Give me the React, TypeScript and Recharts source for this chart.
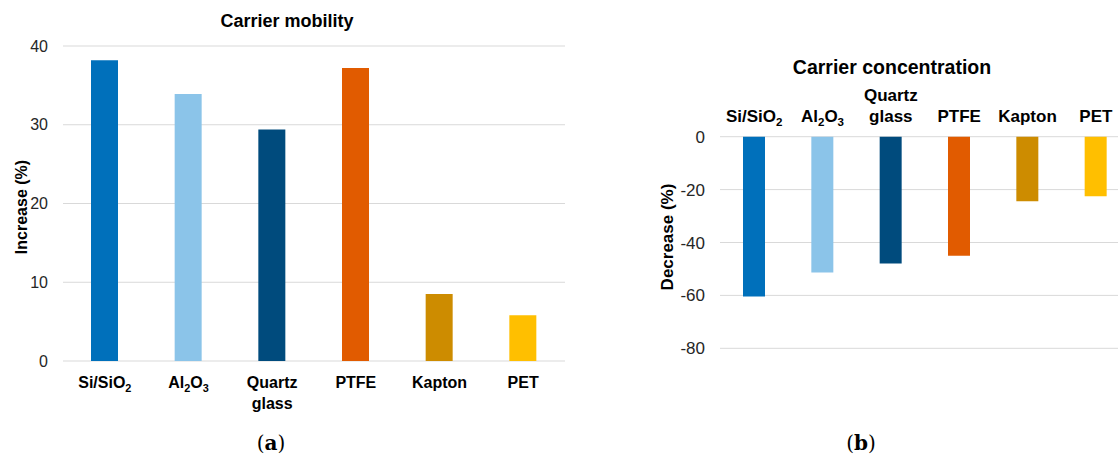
import React from 'react'
import { BarChart, Bar, XAxis, YAxis, CartesianGrid, Cell } from 'recharts'

const materials = ['Si/SiO2', 'Al2O3', 'Quartz glass', 'PTFE', 'Kapton', 'PET']
const mobilityIncrease = [38.2, 33.9, 29.4, 37.2, 8.5, 5.8]
const concentrationDecrease = [-60.4, -51.3, -47.9, -45, -24.4, -22.5]
const barColors = ['#0070BB', '#8BC4E9', '#004B7D', '#E15B00', '#CD8C00', '#FFBF00']
const mobilityTicks = [0, 10, 20, 30, 40]
const concentrationTicks = [-80, -60, -40, -20, 0]

const mobilityData = materials.map((name, i) => ({ name, value: mobilityIncrease[i] }))
const concentrationData = materials.map((name, i) => ({ name, value: concentrationDecrease[i] }))

const FONT = '"Liberation Sans", Arial, sans-serif'

// split "Al2O3" into normal / subscript pieces
const pieces = (s: string) => {
  const out: { t: string; sub: boolean }[] = []
  s.replace(/(\d+)|([^\d]+)/g, (_m, d, t) => {
    out.push(d ? { t: d, sub: true } : { t, sub: false })
    return ''
  })
  return out
}

const makeTick = (fontSize: number, firstLine: number, lineGap: number, up: boolean) => (props: any) => {
  const { x, y, payload } = props
  const lines: string[] = payload.value.split(' ')
  const subShift = Math.round(fontSize * 0.25)
  return (
    <g transform={`translate(${x},${y})`}>
      {lines.map((line, li) => {
        const yy = up ? firstLine - (lines.length - 1 - li) * lineGap : firstLine + li * lineGap
        return (
          <text key={li} x={0} y={yy} textAnchor="middle" fontFamily={FONT} fontWeight="bold" fontSize={fontSize} fill="#000">
            {pieces(line).map((p, k) =>
              p.sub ? (
                <tspan key={k} fontSize={fontSize * 0.68} dy={subShift}>{p.t}</tspan>
              ) : (
                <tspan key={k} dy={k > 0 && pieces(line)[k - 1].sub ? -subShift : 0}>{p.t}</tspan>
              )
            )}
          </text>
        )
      })}
    </g>
  )
}

const MobilityTick = makeTick(16, 26.7, 21, false)
const ConcentrationTick = makeTick(17, -14.7, 21, true)

export default function App() {
  return (
    <div style={{ position: 'absolute', left: 0, top: 0, width: 1118, height: 457, overflow: 'hidden', background: '#fff' }}>
      <div style={{ position: 'absolute', left: 0, top: 0 }}>
        <BarChart width={580} height={457} data={mobilityData} margin={{ top: 46, right: 15, left: 0, bottom: 36 }}>
          <CartesianGrid vertical={false} stroke="#d9d9d9" />
          <XAxis dataKey="name" height={60} axisLine={false} tickLine={false} tickSize={0} tickMargin={0} interval={0} tick={MobilityTick} />
          <YAxis
            width={63}
            domain={[0, 40]}
            ticks={mobilityTicks}
            axisLine={false}
            tickLine={false}
            tickSize={0}
            tickMargin={15}
            tick={{ fontFamily: FONT, fontSize: 16, fill: '#262626' }}
          />
          <Bar dataKey="value" barSize={27} isAnimationActive={false}>
            {mobilityData.map((d, i) => (
              <Cell key={d.name} fill={barColors[i]} />
            ))}
          </Bar>
        </BarChart>
      </div>
      <div style={{ position: 'absolute', left: 640, top: 0 }}>
        <BarChart width={500} height={457} data={concentrationData} margin={{ top: 76.7, right: 10, left: 0, bottom: 108.7 }}>
          <CartesianGrid vertical={false} stroke="#d9d9d9" />
          <XAxis dataKey="name" orientation="top" height={60} axisLine={false} tickLine={false} tickSize={0} tickMargin={0} interval={0} tick={ConcentrationTick} />
          <YAxis
            width={80}
            domain={[-80, 0]}
            ticks={concentrationTicks}
            axisLine={false}
            tickLine={false}
            tickSize={0}
            tickMargin={15}
            tick={{ fontFamily: FONT, fontSize: 17, fill: '#262626' }}
          />
          <Bar dataKey="value" barSize={22} isAnimationActive={false}>
            {concentrationData.map((d, i) => (
              <Cell key={d.name} fill={barColors[i]} />
            ))}
          </Bar>
        </BarChart>
      </div>
      <svg width={1118} height={457} style={{ position: 'absolute', left: 0, top: 0, pointerEvents: 'none' }}>
        <text x={287} y={27} textAnchor="middle" fontFamily={FONT} fontWeight="bold" fontSize={18} fill="#000">Carrier mobility</text>
        <text x={892} y={74} textAnchor="middle" fontFamily={FONT} fontWeight="bold" fontSize={19.5} fill="#000">Carrier concentration</text>
        <text transform="translate(27,207) rotate(-90)" textAnchor="middle" fontFamily={FONT} fontWeight="bold" fontSize={16} fill="#000">Increase (%)</text>
        <text transform="translate(673,237) rotate(-90)" textAnchor="middle" fontFamily={FONT} fontWeight="bold" fontSize={17} fill="#000">Decrease (%)</text>
        <text x={271} y={450} textAnchor="middle" fontFamily='"DejaVu Serif", serif' fontSize={20} fill="#000">
          (<tspan fontWeight="bold">a</tspan>)
        </text>
        <text x={861} y={450} textAnchor="middle" fontFamily='"DejaVu Serif", serif' fontSize={20} fill="#000">
          (<tspan fontWeight="bold">b</tspan>)
        </text>
      </svg>
    </div>
  )
}
